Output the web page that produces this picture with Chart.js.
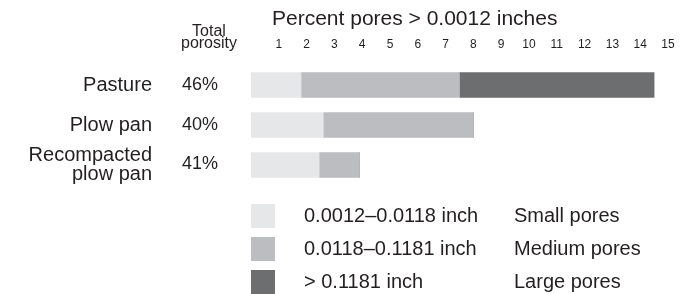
<!DOCTYPE html>
<html>
<head>
<meta charset="utf-8">
<script src="https://cdn.jsdelivr.net/npm/chart.js@4/dist/chart.umd.min.js"></script>
<style>
  html, body { margin: 0; padding: 0; background: #fff; }
  #wrap { width: 688px; height: 294px; position: relative; }
</style>
</head>
<body>
<div id="wrap"><canvas id="chart"></canvas></div>
<script>
// soil types and their total porosity
const soils = ['Pasture', 'Plow pan', ['Recompacted', 'plow pan']];
const porosity = ['46%', '40%', '41%'];

// percent pores, by size class (stacked)
const smallPores = [1.8, 2.6, 2.45];
const mediumPores = [5.7, 5.4, 1.45];
const largePores = [7.0, 0, 0];

const tickValues = [1, 2, 3, 4, 5, 6, 7, 8, 9, 10, 11, 12, 13, 14, 15];

const sizeRanges = ['0.0012\u20130.0118 inch', '0.0118\u20130.1181 inch', '> 0.1181 inch'];
const poreNames = ['Small pores', 'Medium pores', 'Large pores'];
const poreColors = ['#e6e7e8', '#bcbdc0', '#6d6e70'];

const FONT = "'Liberation Sans', Arial, Helvetica, sans-serif";
const TEXT = '#231f20';

// draws the header text, the porosity column and the legend
const extras = {
  id: 'extras',
  afterDraw(chart) {
    const ctx = chart.ctx;
    const y = chart.scales.y;
    ctx.save();
    ctx.fillStyle = TEXT;

    // title over the bars
    ctx.font = '21px ' + FONT;
    ctx.textAlign = 'left';
    ctx.textBaseline = 'middle';
    ctx.fillText('Percent pores > 0.0012 inches', 272, 19);

    // total porosity header + values
    ctx.textAlign = 'center';
    ctx.font = '16px ' + FONT;
    ctx.fillText('Total', 209, 32);
    ctx.fillText('porosity', 209, 44);
    ctx.font = '18px ' + FONT;
    for (let i = 0; i < porosity.length; i++) {
      ctx.fillText(porosity[i], 200, y.getPixelForValue(i) + (i == 2 ? -1 : 0));
    }

    // legend
    const datasets = chart.data.datasets;
    ctx.textAlign = 'left';
    ctx.font = '20px ' + FONT;
    for (let i = 0; i < datasets.length; i++) {
      let top = 204 + i * 33;
      ctx.fillStyle = datasets[i].backgroundColor;
      ctx.fillRect(251, top, 24, 24);
      ctx.fillStyle = TEXT;
      ctx.fillText(datasets[i].sizeLabel, 304, top + 12);
      ctx.fillText(datasets[i].label, 514, top + 12);
    }
    ctx.restore();
  }
};

let datasets = [];
let values = [smallPores, mediumPores, largePores];
for (let i = 0; i < values.length; i++) {
  datasets.push({
    label: poreNames[i],
    sizeLabel: sizeRanges[i],
    data: values[i],
    backgroundColor: poreColors[i],
    borderWidth: 0,
    barThickness: 25
  });
}

new Chart(document.getElementById('chart').getContext('2d'), {
  type: 'bar',
  data: { labels: soils, datasets: datasets },
  plugins: [extras],
  options: {
    indexAxis: 'y',
    responsive: true,
    maintainAspectRatio: false,
    animation: false,
    layout: { padding: { top: 0, left: 0, right: 20, bottom: 109 } },
    plugins: { legend: { display: false }, tooltip: { enabled: false } },
    scales: {
      x: {
        position: 'top',
        stacked: true,
        min: 0,
        max: 15,
        afterBuildTicks: (s) => { s.ticks = tickValues.map(v => ({ value: v })); },
        afterFit: (s) => { s.height = 65; s.paddingLeft = 0; s.paddingRight = 0; },
        grid: { display: false, drawTicks: false },
        border: { display: false },
        ticks: { color: TEXT, padding: 13, font: { family: FONT, size: 12 } }
      },
      y: {
        stacked: true,
        // fixed width; drop the padding that the big tick padding adds above/below
        afterFit: (s) => { s.width = 251; s.paddingTop = 0; s.paddingBottom = 0; },
        grid: { display: false, drawTicks: false },
        border: { display: false },
        ticks: { color: TEXT, padding: 99, font: { family: FONT, size: 20, lineHeight: 0.92 } }
      }
    }
  }
});
</script>
</body>
</html>
